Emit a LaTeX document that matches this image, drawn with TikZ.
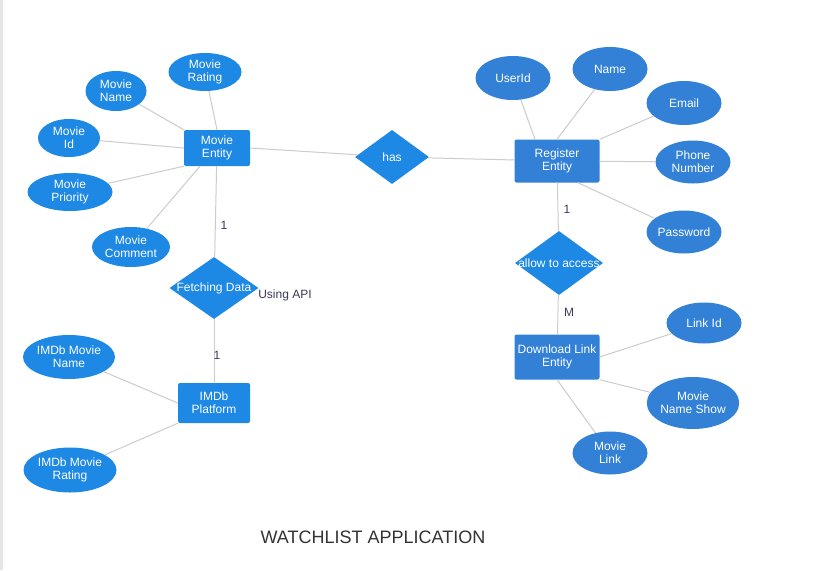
\documentclass[tikz,border=0pt]{standalone}
\usepackage{fontspec}
\setmainfont{Liberation Sans}
\usetikzlibrary{shapes.geometric}
\definecolor{blueA}{HTML}{1E88E5}
\definecolor{blueB}{HTML}{3281D7}
\definecolor{edgegray}{HTML}{CCCCCC}
\definecolor{cardtext}{HTML}{3A3A58}
\definecolor{stripgray}{HTML}{E6E6E6}
\definecolor{titlegray}{HTML}{333333}

\begin{document}
\begin{tikzpicture}[x=1pt,y=-1pt,font=\fontsize{12}{13}\selectfont,
  ent/.style={rectangle,rounded corners=2pt,fill=#1,text=white,align=center,inner sep=0pt},
  ent/.default=blueA,
  attr/.style={ellipse,fill=#1,text=white,align=center,inner sep=0pt},
  attr/.default=blueA,
  rel/.style={diamond,fill=blueA,text=white,inner sep=0pt},
  link/.style={draw=edgegray,line width=1pt},
  card/.style={text=cardtext}]
  \fill[white] (0,0) rectangle (840,570);
  \fill[stripgray] (0,0) rectangle (3,570);
  \useasboundingbox (0,0) rectangle (840,570);
  % movie side
  \node[ent,minimum width=66,minimum height=36] (movie) at (217,148) {Movie\\Entity};
  \node[attr,minimum width=73,minimum height=38] (rating) at (205,72) {Movie\\Rating};
  \node[attr,minimum width=61,minimum height=40] (mname) at (116,91) {Movie\\Name};
  \node[attr,minimum width=62,minimum height=38] (mid) at (69,138) {Movie\\Id};
  \node[attr,minimum width=85,minimum height=38] (prio) at (70,192) {Movie\\Priority};
  \node[attr,minimum width=78,minimum height=40] (comment) at (131,247) {Movie\\Comment};
  \node[rel,minimum width=89,minimum height=62] (fetch) at (214,288) {\makebox[0pt]{Fetching Data}};
  \node[ent,minimum width=72,minimum height=40] (imdb) at (214,403) {IMDb\\Platform};
  \node[attr,minimum width=92,minimum height=44] (iname) at (69,357) {IMDb Movie\\Name};
  \node[attr,minimum width=93,minimum height=45] (irating) at (70,470) {IMDb Movie\\Rating};
  \node[rel,minimum width=74,minimum height=54] (has) at (392,157) {\makebox[0pt]{has}};
  % register side
  \node[ent=blueB,minimum width=85,minimum height=43] (reg) at (557,161) {Register\\Entity};
  \node[attr=blueB,minimum width=75,minimum height=44] (userid) at (513,78) {UserId};
  \node[attr=blueB,minimum width=75,minimum height=44] (name) at (610,69) {Name};
  \node[attr=blueB,minimum width=75,minimum height=44] (email) at (684,103) {Email};
  \node[attr=blueB,minimum width=75,minimum height=43] (phone) at (693,162) {Phone\\Number};
  \node[attr=blueB,minimum width=75,minimum height=43] (pass) at (684,232) {Password};
  \node[rel,minimum width=88,minimum height=64] (access) at (559,263) {\makebox[0pt]{allow to access}};
  \node[ent=blueB,minimum width=85,minimum height=45] (dl) at (557,357) {Download Link\\Entity};
  \node[attr=blueB,minimum width=75,minimum height=41] (linkid) at (704,323) {Link Id};
  \node[attr=blueB,minimum width=91,minimum height=52] (mshow) at (693,403) {Movie\\Name Show};
  \node[attr=blueB,minimum width=75,minimum height=43] (mlink) at (610,453) {Movie\\Link};
  % connectors
  \draw[link] (movie.north) -- (rating);
  \draw[link] (movie.north west) -- (mname);
  \draw[link] (movie.west) -- (mid);
  \draw[link] (movie.south west) -- (prio);
  \draw[link] ([xshift=-17pt]movie.south) -- (comment);
  \draw[link] (movie.east) -- (has);
  \draw[link] (has) -- (reg);
  \draw[link] (movie) -- (fetch);
  \draw[link] (fetch) -- (imdb);
  \draw[link] (imdb.west) -- (iname);
  \draw[link] (imdb.south west) -- (irating);
  \draw[link] ([xshift=-22pt]reg.north) -- (userid);
  \draw[link] (reg.north) -- (name);
  \draw[link] (reg.north east) -- (email);
  \draw[link] (reg) -- (phone);
  \draw[link] ([xshift=21pt]reg.south) -- (pass);
  \draw[link] (reg) -- (access);
  \draw[link] (access) -- (dl);
  \draw[link] (dl.east) -- (linkid);
  \draw[link] (dl.south east) -- (mshow);
  \draw[link] (dl.south) -- (mlink);
  % cardinalities
  \node[card] (c1) at (224,225) {1};
  \node[card] (api) at (285,295) {Using API};
  \node[card] (c2) at (217,355) {1};
  \node[card] (c3) at (567,209) {1};
  \node[card] (cm) at (569,312) {M};
  \node[text=titlegray,font=\fontsize{18}{20}\selectfont] (title) at (373,537) {WATCHLIST APPLICATION};
\end{tikzpicture}
\end{document}
